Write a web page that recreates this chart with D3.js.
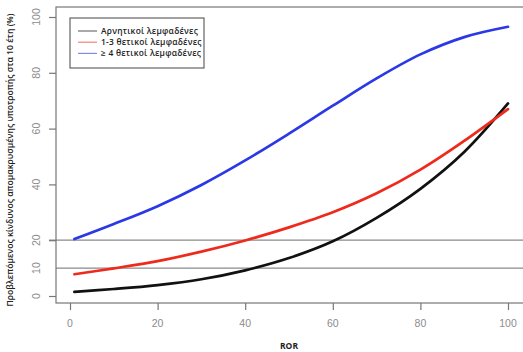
<!DOCTYPE html>
<html>
<head>
<meta charset="utf-8">
<script src="https://cdn.jsdelivr.net/npm/d3@7"></script>
<style>
  html, body { margin: 0; padding: 0; background: #fff; }
  svg { display: block; }
</style>
</head>
<body>
<svg id="chart" width="523" height="352"></svg>
<script>
// ROR values at which each risk curve is sampled
const ror = [1, 10, 20, 30, 40, 50, 60, 70, 80, 90, 100];

// Predicted 10-year distant recurrence risk (%) per nodal group
const negNodes   = [1.5, 2.5, 3.9, 6.0, 9.2, 13.6, 19.6, 28.0, 38.4, 51.6, 69.0];
const nodes1to3  = [7.8, 9.9, 12.5, 15.9, 19.9, 24.6, 30.0, 36.8, 45.3, 55.6, 67.0];
const nodes4plus = [20.4, 25.8, 32.2, 39.8, 48.6, 58.2, 68.2, 78.0, 86.6, 92.8, 96.5];

const seriesNames  = ["Αρνητικοί λεμφαδένες", "1-3 θετικοί λεμφαδένες", "≥ 4 θετικοί λεμφαδένες"];
const seriesColors = ["#111111", "#ee2a1c", "#2b38e6"];

const xTicks = [0, 20, 40, 60, 80, 100];
const yTicks = [0, 10, 20, 40, 60, 80, 100];
const yTicksMarked = [0, 20, 40, 60, 80, 100];
const refLevels = [10, 20];

const svg = d3.select("#chart");

const x = d3.scaleLinear().domain([0, 100]).range([70, 508]);
const y = d3.scaleLinear().domain([0, 100]).range([296, 17]);

const boxLeft = 56, boxTop = 7, boxBottom = 303, boxRight = 530;

// reference levels
svg.selectAll("line.ref").data(refLevels).enter().append("line")
  .attr("x1", d => d === 20 ? 49 : boxLeft).attr("x2", boxRight)
  .attr("y1", d => y(d)).attr("y2", d => y(d))
  .attr("stroke", "#8a8a8a").attr("stroke-width", 1.2);

// plot frame
svg.append("rect")
  .attr("x", boxLeft).attr("y", boxTop)
  .attr("width", boxRight - boxLeft).attr("height", boxBottom - boxTop)
  .attr("fill", "none").attr("stroke", "#777").attr("stroke-width", 1.2);

// y axis ticks and labels
const yAxis = d3.axisLeft(y).tickValues(yTicksMarked).tickSize(7).tickFormat("");
const gy = svg.append("g").attr("transform", `translate(${boxLeft},0)`).call(yAxis);
gy.select(".domain").remove();
gy.selectAll(".tick line").attr("stroke", "#777").attr("stroke-width", 1.2);

svg.selectAll("text.ytl").data(yTicks).enter().append("text")
  .attr("transform", d => `translate(40,${y(d)}) rotate(-90)`)
  .attr("text-anchor", "middle")
  .attr("font-family", "Liberation Sans, Arial, sans-serif")
  .attr("font-size", 10.5).attr("fill", "#8c8c8c")
  .text(d => d);

// x axis ticks and labels
const xAxis = d3.axisBottom(x).tickValues(xTicks).tickSize(7).tickFormat("");
const gx = svg.append("g").attr("transform", `translate(0,${boxBottom})`).call(xAxis);
gx.select(".domain").remove();
gx.selectAll(".tick line").attr("stroke", "#777").attr("stroke-width", 1.2);

svg.selectAll("text.xtl").data(xTicks).enter().append("text")
  .attr("x", d => x(d)).attr("y", 327)
  .attr("text-anchor", "middle")
  .attr("font-family", "Liberation Sans, Arial, sans-serif")
  .attr("font-size", 10.5).attr("fill", "#8c8c8c")
  .text(d => d);

// axis titles
svg.append("text")
  .attr("x", 289).attr("y", 349)
  .attr("text-anchor", "middle")
  .attr("font-family", "Open Sans, Noto Sans, sans-serif")
  .attr("font-weight", "bold").attr("font-size", 8.5).attr("fill", "#222")
  .text("ROR");

svg.append("text")
  .attr("transform", "translate(13,160) rotate(-90)")
  .attr("text-anchor", "middle")
  .attr("font-family", "Open Sans, Noto Sans, sans-serif")
  .attr("font-weight", "600").attr("font-size", 8.6).attr("fill", "#222")
  .text("Προβλεπόμενος κίνδυνος απομακρυσμένης υποτροπής στα 10 έτη (%)");

// risk curves
const line = d3.line().curve(d3.curveCatmullRom.alpha(0.5))
  .x((d, i) => x(ror[i])).y(d => y(d));

[negNodes, nodes1to3, nodes4plus].forEach((vals, k) => {
  svg.append("path").datum(vals)
    .attr("d", line)
    .attr("fill", "none")
    .attr("stroke", seriesColors[k])
    .attr("stroke-width", 2.7)
    .attr("stroke-linecap", "round");
});

// legend
const lg = svg.append("g");
lg.append("rect")
  .attr("x", 70).attr("y", 18).attr("width", 134).attr("height", 50)
  .attr("fill", "#fff").attr("stroke", "#444").attr("stroke-width", 1);

seriesNames.forEach((name, k) => {
  const yy = 31 + k * 11.2;
  lg.append("line")
    .attr("x1", 78).attr("x2", 97).attr("y1", yy).attr("y2", yy)
    .attr("stroke", seriesColors[k]).attr("stroke-opacity", 0.6).attr("stroke-width", 1.2);
  lg.append("text")
    .attr("x", 101).attr("y", yy + 3)
    .attr("font-family", "Open Sans, Noto Sans, sans-serif")
    .attr("font-weight", "600").attr("font-size", 8.4)
    .attr("letter-spacing", 0.25).attr("fill", "#222")
    .text(name);
});
</script>
</body>
</html>
